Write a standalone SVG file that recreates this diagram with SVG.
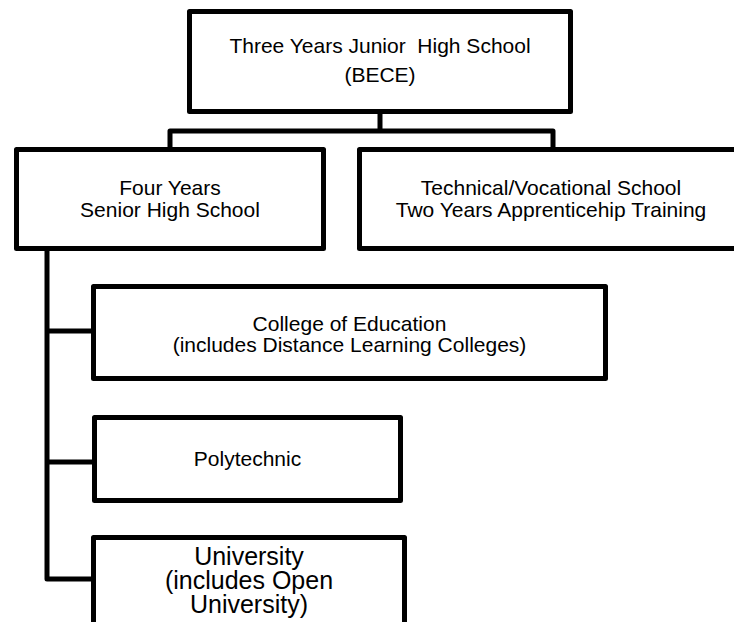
<svg xmlns="http://www.w3.org/2000/svg" width="734" height="622" viewBox="0 0 734 622">
  <style>
    .box { fill: #ffffff; stroke: #000000; stroke-width: 5; stroke-linejoin: round; }
    .link { fill: none; stroke: #000000; stroke-width: 5; stroke-linejoin: round; }
    .lbl { font-family: "Liberation Sans", Arial, sans-serif; font-size: 21px; fill: #000000; text-anchor: middle; white-space: pre; }
    .big { font-size: 25px; }
  </style>
  <rect width="734" height="622" fill="#ffffff"/>

  <!-- connectors -->
  <g id="connectors">
    <path class="link" d="M380,113 V131"/>
    <path class="link" d="M170,148 V131 H553 V148"/>
    <path class="link" d="M47,251 V579 H92"/>
    <path class="link" d="M47,331 H92"/>
    <path class="link" d="M47,462 H92"/>
  </g>

  <g id="jhs">
    <rect class="box" x="189.5" y="11.5" width="381" height="100"/>
    <text class="lbl" x="380" y="53">Three Years Junior  High School</text>
    <text class="lbl" x="380" y="82">(BECE)</text>
  </g>

  <g id="shs">
    <rect class="box" x="16.5" y="149.5" width="307" height="99"/>
    <text class="lbl" x="170" y="195">Four Years</text>
    <text class="lbl" x="170" y="216.5">Senior High School</text>
  </g>

  <g id="technical">
    <rect class="box" x="359.5" y="149.5" width="383" height="99"/>
    <text class="lbl" x="551" y="195">Technical/Vocational School</text>
    <text class="lbl" x="551" y="216.5">Two Years Apprenticehip Training</text>
  </g>

  <g id="college">
    <rect class="box" x="93.5" y="286.5" width="512" height="92"/>
    <text class="lbl" x="349.5" y="331">College of Education</text>
    <text class="lbl" x="349.5" y="352">(includes Distance Learning Colleges)</text>
  </g>

  <g id="polytechnic">
    <rect class="box" x="94.5" y="417.5" width="306" height="83"/>
    <text class="lbl" x="247.5" y="465.5">Polytechnic</text>
  </g>

  <g id="university">
    <rect class="box" x="93.5" y="537.5" width="311" height="100"/>
    <text class="lbl big" x="249" y="565">University</text>
    <text class="lbl big" x="249" y="589">(includes Open</text>
    <text class="lbl big" x="249" y="613">University)</text>
  </g>
</svg>
